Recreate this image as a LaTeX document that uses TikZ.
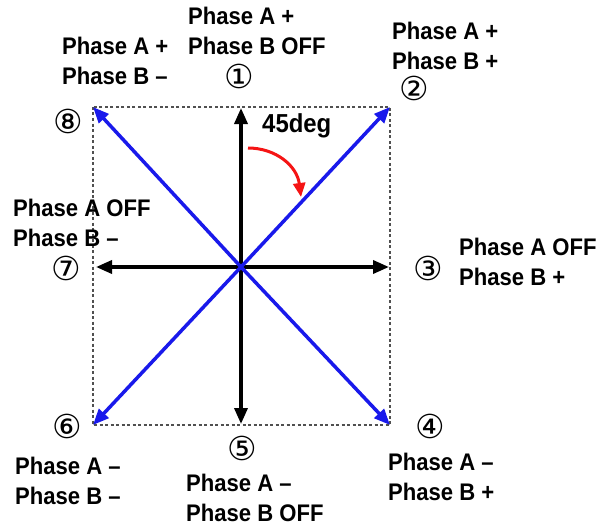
\documentclass[tikz,border=0pt]{standalone}
\usepackage{fontspec}
\setmainfont{Liberation Sans}[FakeStretch=0.92]
\newfontfamily\circfont{DejaVu Sans}
\usetikzlibrary{arrows.meta}
\definecolor{vecblue}{RGB}{25,25,235}
\definecolor{turnred}{RGB}{245,20,20}
\definecolor{boxgray}{RGB}{80,80,80}

\tikzset{
  phase/.style={anchor=north west, inner sep=0pt, align=left,
    font=\fontsize{24}{30}\selectfont\bfseries},
  stepno/.style={inner sep=0pt, font=\circfont\fontsize{33}{33}\selectfont},
  axis/.style={line width=3.5pt, -{Triangle[length=16pt,width=13pt]}},
  diag/.style={axis, vecblue},
}

\begin{document}
\begin{tikzpicture}[x=1pt,y=-1pt]
  \useasboundingbox (0,0) rectangle (611,527);
  % centre, corners and axis ends
  \coordinate (o) at (241,267);
  \coordinate (c2) at (390,107);
  \coordinate (c4) at (390,425);
  \coordinate (c6) at (93,425);
  \coordinate (c8) at (93,107);
  \coordinate (a1) at (241,108);
  \coordinate (a3) at (389,267);
  \coordinate (a5) at (241,424);
  \coordinate (a7) at (96,267);

  \draw[boxgray, line width=2.2pt, dash pattern=on 3pt off 2.5pt] (c8) rectangle (c4);

  % black axes
  \draw[axis] (o) -- (a1);
  \draw[axis] (o) -- (a3);
  \draw[axis] (o) -- (a5);
  \draw[axis] (o) -- (a7);
  % blue diagonals
  \draw[diag] (o) -- (c2);
  \draw[diag] (o) -- (c4);
  \draw[diag] (o) -- (c6);
  \draw[diag] (o) -- (c8);

  % 45 degree turn
  \coordinate (r0) at (248,148);
  \coordinate (r1) at (301,197);
  \draw[turnred, line width=3pt, -{Triangle[length=14pt,width=12pt]}]
    (r0) .. controls (276,148) and (297,166) .. (r1);
  \node[anchor=north west, inner sep=0pt, font=\fontsize{26}{26}\selectfont\bfseries]
    (deg) at (262,113) {45deg};

  % step numbers
  \node[stepno] (n1) at (239,76) {①};
  \node[stepno] (n2) at (414,88) {②};
  \node[stepno] (n3) at (428,268) {③};
  \node[stepno] (n4) at (430,426) {④};
  \node[stepno] (n5) at (242,448) {⑤};
  \node[stepno] (n6) at (67,426) {⑥};
  \node[stepno] (n7) at (66,268) {⑦};
  \node[stepno] (n8) at (68,121) {⑧};

  % phase states
  \node[phase] (s1) at (188,7) {Phase A +\\Phase B OFF};
  \node[phase] (s2) at (392,22) {Phase A +\\Phase B +};
  \node[phase] (s3) at (459,238) {Phase A OFF\\Phase B +};
  \node[phase] (s4) at (388,453) {Phase A –\\Phase B +};
  \node[phase] (s5) at (186,474) {Phase A –\\Phase B OFF};
  \node[phase] (s6) at (15,457) {Phase A –\\Phase B –};
  \node[phase] (s7) at (13,199) {Phase A OFF\\Phase B –};
  \node[phase] (s8) at (62,37) {Phase A +\\Phase B –};
\end{tikzpicture}
\end{document}
